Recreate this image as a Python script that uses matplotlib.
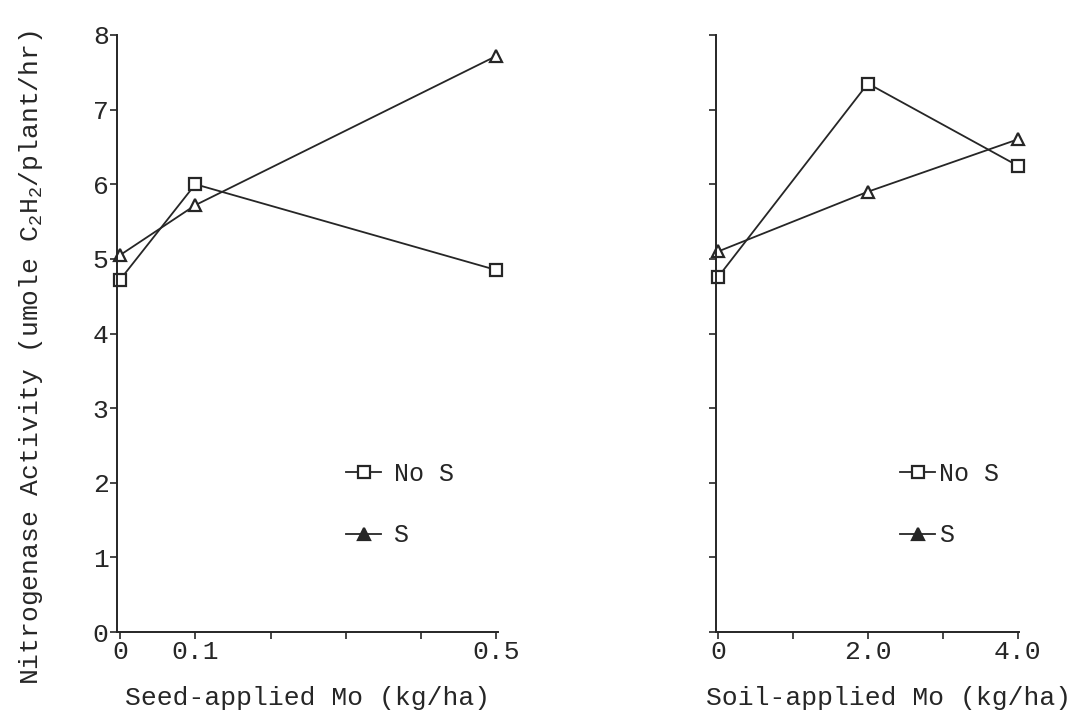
import matplotlib
matplotlib.use("Agg")
import matplotlib.pyplot as plt
from matplotlib.lines import Line2D

plt.rcParams['font.family'] = ['Liberation Mono', 'DejaVu Sans Mono']
plt.rcParams['mathtext.fontset'] = 'custom'
plt.rcParams['mathtext.rm'] = 'Liberation Mono'
plt.rcParams['mathtext.it'] = 'Liberation Mono'

ink = '#262626'

# seed-applied Mo
seed_mo = [0.0, 0.1, 0.5]
seed_no_s = [4.72, 6.0, 4.85]
seed_s = [5.05, 5.72, 7.72]

# soil-applied Mo
soil_mo = [0.0, 2.0, 4.0]
soil_no_s = [4.76, 7.35, 6.25]
soil_s = [5.1, 5.9, 6.6]

seed_ticks = [0, 0.1, 0.2, 0.3, 0.4, 0.5]
seed_ticklabels = ['0', '0.1', '', '', '', '0.5']
soil_ticks = [0, 1, 2, 3, 4]
soil_ticklabels = ['0', '', '2.0', '', '4.0']
y_ticks = [0, 1, 2, 3, 4, 5, 6, 7, 8]

fig = plt.figure(figsize=(10.77, 7.17), dpi=100)
W, H = 1077, 717
bottom = 1 - 632 / H
height = 597 / H
ax1 = fig.add_axes([117 / W, bottom, (498 - 117) / W, height])
ax2 = fig.add_axes([716 / W, bottom, (1019 - 716) / W, height])

line_kw = dict(color=ink, lw=1.3, markersize=9, markeredgewidth=1.6,
               markerfacecolor='white', markeredgecolor=ink, clip_on=False)

ax1.plot(seed_mo, seed_no_s, marker='s', **line_kw)
ax1.plot(seed_mo, seed_s, marker='^', **line_kw)
ax2.plot(soil_mo, soil_no_s, marker='s', **line_kw)
ax2.plot(soil_mo, soil_s, marker='^', **line_kw)

ax1.set_xlim(-0.004, 0.502)
ax2.set_xlim(-0.03, 4.02)

for ax in (ax1, ax2):
    ax.set_ylim(0, 8)
    ax.set_yticks(y_ticks)
    for s in ('top', 'right'):
        ax.spines[s].set_visible(False)
    for s in ('left', 'bottom'):
        ax.spines[s].set_color(ink)
        ax.spines[s].set_linewidth(1.4)
    ax.tick_params(direction='out', length=5, width=1.2, colors=ink,
                   labelsize=19, pad=1)

ax1.set_xticks(seed_ticks)
ax1.set_xticklabels(seed_ticklabels)
ax2.set_xticks(soil_ticks)
ax2.set_xticklabels(soil_ticklabels)
ax2.set_yticklabels([])

ax1.set_xlabel('Seed-applied Mo (kg/ha)', fontsize=19, color=ink)
ax1.xaxis.set_label_coords(0.5, -0.09)
ax2.set_xlabel('Soil-applied Mo (kg/ha)', fontsize=19, color=ink)
ax2.xaxis.set_label_coords(0.57, -0.09)

ax1.set_ylabel('Nitrogenase Activity (umole C$_2$H$_2$/plant/hr)',
               fontsize=19, color=ink)
ax1.yaxis.set_label_coords(-0.19, 0.46)

leg_kw = dict(color=ink, lw=1.3, markersize=8, markeredgewidth=1.6,
              markeredgecolor=ink)
handles = [Line2D([], [], marker='s', markerfacecolor='white', **leg_kw),
           Line2D([], [], marker='^', markerfacecolor=ink, **leg_kw)]
labels = ['No S', 'S']

for ax, x0, pad in ((ax1, 346, 0.5), (ax2, 900, 0.15)):
    ax.legend(handles, labels, loc='upper left',
              bbox_to_anchor=(x0 / W, 1 - 462 / H),
              bbox_transform=fig.transFigure, frameon=False,
              fontsize=18, labelcolor=ink, handlelength=1.4,
              handletextpad=pad, labelspacing=1.5, borderpad=0,
              borderaxespad=0)

fig.savefig('out.png', dpi=100)
